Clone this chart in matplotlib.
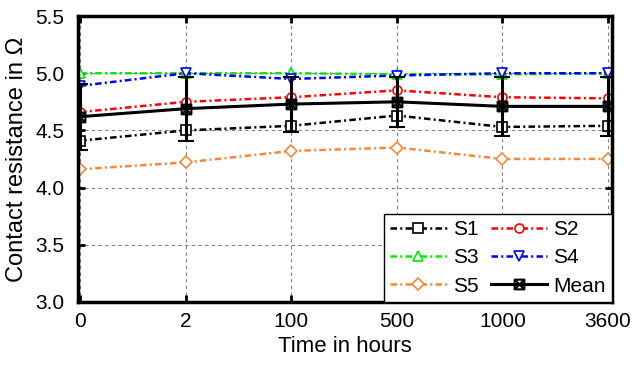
import matplotlib
matplotlib.use("Agg")
import matplotlib.pyplot as plt
import numpy as np
from matplotlib.path import Path

plt.rcParams['font.family'] = ['Liberation Sans', 'DejaVu Sans']

hours = ['0', '2', '100', '500', '1000', '3600']
s1 = [4.41, 4.50, 4.54, 4.63, 4.53, 4.54]
s2 = [4.66, 4.75, 4.79, 4.85, 4.79, 4.78]
s3 = [5.00, 5.00, 5.00, 4.99, 4.99, 5.00]
s4 = [4.89, 5.00, 4.95, 4.98, 5.00, 5.00]
s5 = [4.16, 4.22, 4.32, 4.35, 4.25, 4.25]
mean = [4.62, 4.69, 4.73, 4.75, 4.71, 4.71]
mean_err = [0.29, 0.28, 0.24, 0.22, 0.26, 0.26]

# square with a cross inside, for the mean
box_x = Path([(-1, -1), (1, -1), (1, 1), (-1, 1), (-1, -1),
              (-1, -1), (1, 1), (-1, 1), (1, -1)],
             [Path.MOVETO, Path.LINETO, Path.LINETO, Path.LINETO, Path.CLOSEPOLY,
              Path.MOVETO, Path.LINETO, Path.MOVETO, Path.LINETO])

x = np.arange(len(hours))

fig = plt.figure(figsize=(6.35, 3.65), dpi=100)
ax = fig.add_axes([0.123, 0.173, 0.841, 0.783])

dashdot = (0, (2.6, 1.3, 0.8, 1.3))
kw = dict(linestyle=dashdot, linewidth=1.8, markersize=6.5, markerfacecolor='white',
          markeredgewidth=1.2)
l1, = ax.plot(x, s1, color='black', marker='s', label='S1', **kw)
l2, = ax.plot(x, s2, color='red', marker='o', label='S2', **kw)
l3, = ax.plot(x, s3, color='#00ee00', marker='^', label='S3', **kw)
l4, = ax.plot(x, s4, color='blue', marker='v', label='S4', **kw)
l5, = ax.plot(x, s5, color='#f08a3a', marker='D', label='S5', **kw)
eb = ax.errorbar(x, mean, yerr=mean_err, color='black', linewidth=2.2,
                 marker=box_x, markersize=7, markerfacecolor='none',
                 markeredgewidth=1.5, elinewidth=2.2, capsize=5.5, capthick=2.2,
                 label='Mean', zorder=5)
lm = eb[0]

ax.set_xlim(-0.02, 5.04)
ax.set_ylim(3.0, 5.5)
ax.set_xticks(x)
ax.set_xticklabels(hours)
ax.set_yticks(np.arange(3.0, 5.51, 0.5))
ax.yaxis.set_major_formatter(matplotlib.ticker.FormatStrFormatter('%.1f'))
ax.tick_params(direction='in', length=5, width=2, labelsize=15,
               top=True, right=True)
ax.tick_params(axis='y', pad=10)
ax.tick_params(axis='x', pad=7)
for sp in ax.spines.values():
    sp.set_linewidth(2.5)
ax.grid(True, color='gray', linestyle=(0, (3, 3)), linewidth=0.8)

ax.set_xlabel('Time in hours', fontsize=16, labelpad=4)
ax.set_ylabel('Contact resistance in Ω', fontsize=17, labelpad=5)

leg = ax.legend([l1, l3, l5, l2, l4, lm], ['S1', 'S3', 'S5', 'S2', 'S4', 'Mean'],
                ncol=2, loc='lower right', fontsize=15, frameon=True,
                fancybox=False, edgecolor='black', framealpha=1,
                borderaxespad=0.0, handlelength=2.7, handletextpad=0.3,
                columnspacing=0.6, labelspacing=0.45, borderpad=0.3)
leg.get_frame().set_linewidth(1.0)

fig.savefig('out.png', dpi=100)
